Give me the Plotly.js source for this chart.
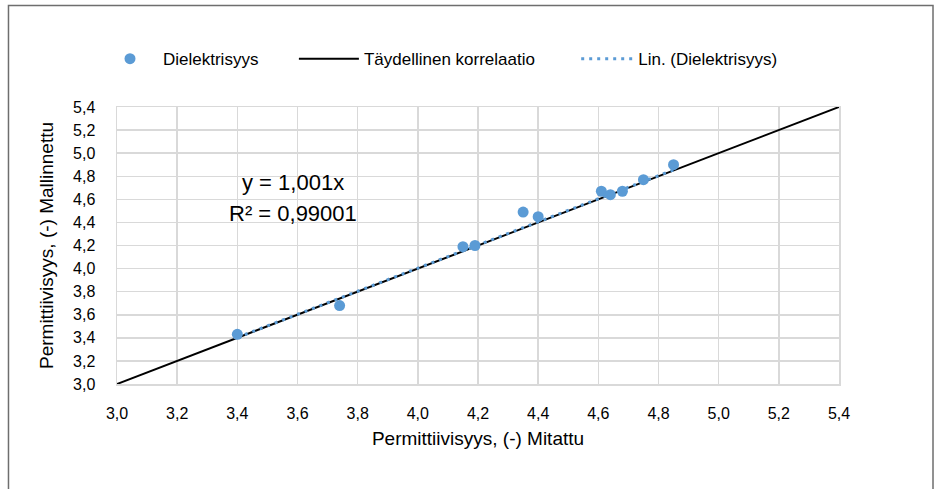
<!DOCTYPE html>
<html>
<head>
<meta charset="utf-8">
<script src="https://cdn.plot.ly/plotly-3.0.1.min.js"></script>
<style>
  html, body { margin: 0; padding: 0; background: #ffffff; }
  #chart { width: 938px; height: 489px; }
</style>
</head>
<body>
<div id="chart"></div>
<script>
// Measured vs. modelled permittivity
const measured = [3.40, 3.74, 4.15, 4.19, 4.35, 4.40, 4.61, 4.64, 4.68, 4.75, 4.85];
const modelled = [3.43, 3.68, 4.19, 4.20, 4.49, 4.45, 4.67, 4.64, 4.67, 4.77, 4.90];

// Linear fit through origin and its coefficient of determination
const slope = 1.001;
const rSquared = 0.99001;

// Ideal 1:1 line across the full axis range
const idealX = [3.0, 5.4];
const axisRange = [3.0, 5.4];
const tickStep = 0.2;

const seriesName = 'Dielektrisyys';
const idealName = 'Täydellinen korrelaatio';
const trendName = 'Lin. (Dielektrisyys)';
const xTitle = 'Permittiivisyys, (-) Mitattu';
const yTitle = 'Permittiivisyys, (-) Mallinnettu';

const fmt = (v, d) => v.toFixed(d).replace('.', ',');

const blue = '#5b9bd5';
const font = '"Liberation Sans", Arial, sans-serif';

const trendX = [Math.min(...measured), Math.max(...measured)];
const trendY = trendX.map(x => slope * x);

const traces = [
  {
    x: idealX, y: idealX.slice(),
    type: 'scatter', mode: 'lines', name: idealName,
    line: { color: '#000000', width: 2 },
    legend: 'legend2', hoverinfo: 'skip'
  },
  {
    x: trendX, y: trendY,
    type: 'scatter', mode: 'lines', name: trendName,
    line: { color: blue, width: 3, dash: '3px,5px' },
    legend: 'legend3', hoverinfo: 'skip'
  },
  {
    x: measured, y: modelled,
    type: 'scatter', mode: 'markers', name: seriesName,
    marker: { color: blue, size: 11 },
    legend: 'legend'
  }
];

const axisCommon = {
  range: axisRange,
  dtick: tickStep,
  tick0: 3.0,
  tickformat: '.1f',
  showgrid: true,
  gridcolor: '#d9d9d9',
  gridwidth: 1.5,
  zeroline: false,
  showline: true,
  linecolor: '#d9d9d9',
  linewidth: 1.5,
  mirror: true,
  ticks: '',
  tickfont: { family: font, size: 16, color: '#000000' },
  fixedrange: true
};

const legendCommon = {
  orientation: 'h',
  yanchor: 'middle',
  xanchor: 'left',
  y: 1.173,
  bgcolor: 'rgba(0,0,0,0)',
  font: { family: font, size: 17, color: '#000000' },
  traceorder: 'normal'
};

const layout = {
  width: 938,
  height: 489,
  margin: { l: 117, r: 99, t: 107, b: 105 },
  paper_bgcolor: '#ffffff',
  plot_bgcolor: '#ffffff',
  separators: ', ',
  showlegend: true,
  xaxis: Object.assign({}, axisCommon, {
    ticklabelstandoff: 14,
    title: { text: xTitle, font: { family: font, size: 19, color: '#000000' }, standoff: 11 }
  }),
  yaxis: Object.assign({}, axisCommon, {
    ticklabelstandoff: 17,
    title: { text: yTitle, font: { family: font, size: 19, color: '#000000' }, standoff: 14 }
  }),
  legend: Object.assign({}, legendCommon, { x: -0.0277, itemwidth: 56 }),
  legend2: Object.assign({}, legendCommon, { x: 0.245, itemwidth: 60 }),
  legend3: Object.assign({}, legendCommon, { x: 0.636, itemwidth: 52 }),
  annotations: [
    {
      x: 3.585, y: 4.75, xref: 'x', yref: 'y',
      text: 'y = ' + fmt(slope, 3) + 'x',
      showarrow: false,
      font: { family: font, size: 22, color: '#000000' }
    },
    {
      x: 3.585, y: 4.475, xref: 'x', yref: 'y',
      text: 'R² = ' + fmt(rSquared, 5),
      showarrow: false,
      font: { family: font, size: 22, color: '#000000' }
    }
  ],
  shapes: [
    {
      type: 'rect', xref: 'paper', yref: 'paper',
      x0: -0.1503, x1: 1.1302, y0: -0.45, y1: 1.3664,
      line: { color: '#6e6e6e', width: 1.5 },
      fillcolor: 'rgba(0,0,0,0)', layer: 'below'
    }
  ]
};

Plotly.newPlot('chart', traces, layout, { displayModeBar: false, staticPlot: true });
</script>
</body>
</html>
